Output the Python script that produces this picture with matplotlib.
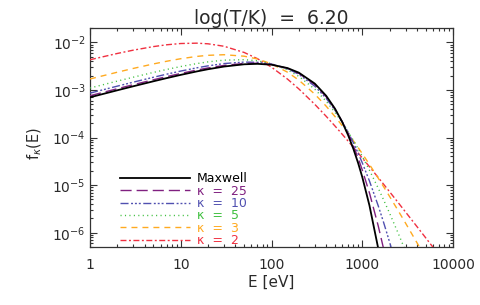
import numpy as np
import matplotlib
matplotlib.use("Agg")
import matplotlib.pyplot as plt

nan = np.nan

energy_ev = [1, 2, 3, 5, 7, 10, 15, 20, 30, 50, 70, 100, 150, 200, 300, 400,
             500, 600, 700, 800, 900, 1000, 1200, 1500, 1700, 2000, 2500,
             3000, 4000, 5000, 7000, 10000]

f_maxwell = [7.01e-4, 9.85e-4, 1.197e-3, 1.523e-3, 1.776e-3, 2.077e-3, 2.452e-3,
             2.730e-3, 3.107e-3, 3.465e-3, 3.541e-3, 3.398e-3, 2.886e-3, 2.311e-3,
             1.361e-3, 7.56e-4, 4.06e-4, 2.14e-4, 1.11e-4, 5.72e-5, 2.92e-5,
             1.48e-5, 3.74e-6, 4.65e-7, 1.15e-7, nan, nan, nan, nan, nan, nan, nan]
f_kappa25 = [7.57e-4, 1.063e-3, 1.291e-3, 1.640e-3, 1.909e-3, 2.227e-3, 2.620e-3,
             2.906e-3, 3.284e-3, 3.613e-3, 3.646e-3, 3.439e-3, 2.853e-3, 2.243e-3,
             1.296e-3, 7.21e-4, 3.96e-4, 2.17e-4, 1.197e-4, 6.63e-5, 3.71e-5,
             2.09e-5, 6.86e-6, 1.386e-6, 5.01e-7, 1.16e-7, nan, nan, nan, nan, nan, nan]
f_kappa10 = [8.59e-4, 1.204e-3, 1.460e-3, 1.850e-3, 2.148e-3, 2.496e-3, 2.917e-3,
             3.215e-3, 3.588e-3, 3.857e-3, 3.812e-3, 3.496e-3, 2.791e-3, 2.135e-3,
             1.199e-3, 6.68e-4, 3.77e-4, 2.17e-4, 1.279e-4, 7.69e-5, 4.72e-5,
             2.95e-5, 1.222e-5, 3.67e-6, 1.76e-6, 6.37e-7, 1.42e-7, nan, nan, nan, nan, nan]
f_kappa5 = [1.099e-3, 1.536e-3, 1.857e-3, 2.339e-3, 2.700e-3, 3.109e-3, 3.582e-3,
            3.894e-3, 4.233e-3, 4.332e-3, 4.102e-3, 3.562e-3, 2.652e-3, 1.934e-3,
            1.038e-3, 5.80e-4, 3.40e-4, 2.07e-4, 1.316e-4, 8.63e-5, 5.82e-5,
            4.03e-5, 2.06e-5, 8.60e-6, 5.14e-6, 2.57e-6, 9.53e-7, 4.12e-7, nan, nan, nan, nan]
f_kappa3 = [1.703e-3, 2.362e-3, 2.837e-3, 3.525e-3, 4.016e-3, 4.537e-3, 5.069e-3,
            5.349e-3, 5.505e-3, 5.126e-3, 4.483e-3, 3.541e-3, 2.362e-3, 1.610e-3,
            8.16e-4, 4.57e-4, 2.77e-4, 1.786e-4, 1.207e-4, 8.49e-5, 6.16e-5,
            4.59e-5, 2.72e-5, 1.403e-5, 9.58e-6, 5.79e-6, 2.86e-6, 1.589e-6,
            6.19e-7, 2.95e-7, nan, nan]
f_kappa2 = [4.318e-3, 5.850e-3, 6.867e-3, 8.159e-3, 8.905e-3, 9.466e-3, 9.629e-3,
            9.334e-3, 8.286e-3, 6.138e-3, 4.545e-3, 3.014e-3, 1.692e-3, 1.052e-3,
            4.98e-4, 2.80e-4, 1.751e-4, 1.179e-4, 8.38e-5, 6.21e-5, 4.75e-5,
            3.73e-5, 2.44e-5, 1.443e-5, 1.072e-5, 7.26e-6, 4.24e-6, 2.72e-6,
            1.350e-6, 7.81e-7, 3.41e-7, 1.41e-7]

series_labels = ["Maxwell", "κ  =  25", "κ  =  10", "κ  =  5", "κ  =  3", "κ  =  2"]
series_values = [f_maxwell, f_kappa25, f_kappa10, f_kappa5, f_kappa3, f_kappa2]
x_tick_values = [1, 10, 100, 1000, 10000]
x_tick_labels = ["1", "10", "100", "1000", "10000"]

colors = ["black", "#802080", "#5050b0", "#40c040", "#ffaa20", "#f03040"]
# dash patterns in points (IDL linestyles)
dashes = [None, (8, 3.6), (5.8, 1.8, 1.4, 1.4, 1.4, 1.4, 1.4, 1.8),
          (0.8, 2.4), (4.3, 3.6), (4.3, 1.8, 1.4, 1.8)]

plt.rcParams["lines.scale_dashes"] = False
axis_color = "#333333"
text_color = "#2a2a2a"

fig = plt.figure(figsize=(4.8, 3.05), dpi=100)
ax = fig.add_axes([0.1875, 0.19, 0.7563, 0.718])

handles = []
for i, (vals, col, dsh) in enumerate(zip(series_values, colors, dashes)):
    if dsh is None:
        line, = ax.plot(energy_ev, vals, color=col, lw=1.3, zorder=10)
    else:
        line, = ax.plot(energy_ev, vals, color=col, lw=1.0, dashes=dsh, zorder=5 - i * 0.1)
    handles.append(line)

ax.set_xscale("log")
ax.set_yscale("log")
ax.set_xlim(1, 10000)
ax.set_ylim(5e-7, 2e-2)
ax.set_xticks(x_tick_values)
ax.set_xticklabels(x_tick_labels)

ax.tick_params(which="both", direction="in", top=True, right=True, color=axis_color,
               width=0.8, labelsize=10, labelcolor=text_color)
ax.tick_params(which="major", length=5)
ax.tick_params(which="minor", length=2.5)
ax.tick_params(axis="x", pad=8)
ax.tick_params(axis="y", pad=3)
for sp in ax.spines.values():
    sp.set_color(axis_color)
    sp.set_linewidth(0.9)

ax.set_title("log(T/K)  =  6.20", fontsize=13.5, pad=3, color=text_color)
ax.set_xlabel("E [eV]", fontsize=11, color=text_color)
ax.set_ylabel(r"f$_\kappa$(E)", fontsize=10.5, color=text_color)
ax.xaxis.set_label_coords(0.5, -0.125)
ax.yaxis.set_label_coords(-0.128, 0.475)

leg = ax.legend(handles, series_labels, loc="lower left", bbox_to_anchor=(0.08, -0.006),
                frameon=False, fontsize=9, handlelength=5.6, handletextpad=0.55,
                labelspacing=-0.05, borderaxespad=0.1, borderpad=0.0)
for txt, col in zip(leg.get_texts(), colors):
    txt.set_color(col)

fig.savefig("out.png", dpi=100)
